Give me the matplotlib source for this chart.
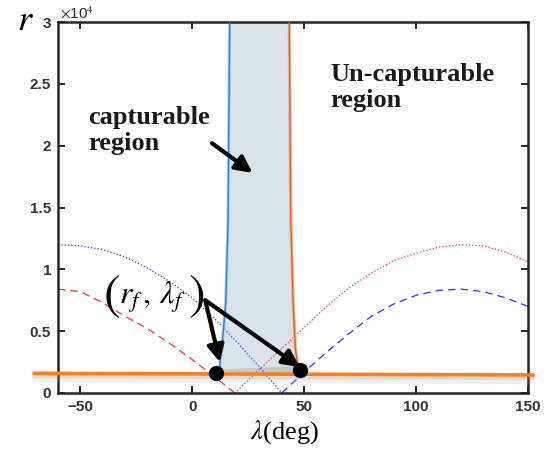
import numpy as np
import matplotlib
matplotlib.use("Agg")
import matplotlib.pyplot as plt

plt.rcParams['font.family'] = ['Liberation Sans', 'DejaVu Sans']
plt.rcParams['mathtext.fontset'] = 'stix'

# curves (r in units of 1e4, lambda in deg)
red_left_lam = [-60, -50, -40, -30, -20, -10, 0, 10, 19]
red_left_r = [0.84, 0.82, 0.73, 0.62, 0.52, 0.40, 0.27, 0.13, 0.0]
red_right_lam = [19, 30, 40, 50, 60, 70, 80, 90, 100, 110, 120, 130, 140, 150]
red_right_r = [0.0, 0.19, 0.36, 0.53, 0.70, 0.85, 0.97, 1.07, 1.13, 1.18, 1.2, 1.19, 1.14, 1.06]

blue_left_lam = [-60, -50, -40, -30, -20, -10, 0, 10, 20, 30, 40]
blue_left_r = [1.2, 1.19, 1.16, 1.10, 1.01, 0.90, 0.77, 0.60, 0.41, 0.21, 0.0]
blue_right_lam = [40, 50, 60, 70, 80, 90, 100, 110, 120, 130, 140, 150]
blue_right_r = [0.0, 0.17, 0.33, 0.48, 0.62, 0.72, 0.79, 0.83, 0.84, 0.82, 0.77, 0.70]

# boundaries of the capturable region
blue_bound_lam = [16.7, 16.0, 15.0, 13.3, 12.5, 12.3]
blue_bound_r = [3.0, 1.4, 0.75, 0.37, 0.27, 0.2]
orange_bound_lam = [43.3, 44.0, 45.0, 46.0, 46.7, 47.5]
orange_bound_r = [3.0, 1.4, 0.75, 0.37, 0.27, 0.2]

# final condition line and points
rf_lam = [-71.4, 153]
rf_r = [0.159, 0.146]
pts_lam = [10.7, 47.9]
pts_r = [0.165, 0.19]

fig = plt.figure(figsize=(5.5, 4.59), dpi=100)
ax = fig.add_axes([0.1055, 0.1438, 0.8545, 0.8082])

# shaded region
poly_lam = blue_bound_lam + [12.3, 47.5] + orange_bound_lam[::-1]
poly_r = blue_bound_r + [0.16, 0.16] + orange_bound_r[::-1]
ax.fill(poly_lam, poly_r, color='#d9e4ea', lw=0, zorder=1)
ax.fill([12.5, 48, 48, 12.5], [0.15, 0.15, 0.22, 0.19], color='#a8aaa8', alpha=0.45, lw=0, zorder=1)

ax.plot(red_left_lam, red_left_r, color='#ff3030', lw=0.9, dashes=(6, 4), zorder=2)
ax.plot(red_right_lam, red_right_r, color='#ff3030', lw=0.9, ls=':', zorder=2)
ax.plot(blue_left_lam, blue_left_r, color='#3030ff', lw=0.9, ls=':', zorder=2)
ax.plot(blue_right_lam, blue_right_r, color='#3030ff', lw=0.9, dashes=(6, 4), zorder=2)

ax.plot(blue_bound_lam, blue_bound_r, color='#b4d2ea', lw=2.5, zorder=2)
ax.plot(blue_bound_lam, blue_bound_r, color='#2f7fc0', lw=1.0, zorder=3)
ax.plot(orange_bound_lam, orange_bound_r, color='#f2bca0', lw=2.5, zorder=2)
ax.plot(orange_bound_lam, orange_bound_r, color='#e0602a', lw=1.0, zorder=3)

# shadow + orange line
ax.plot(rf_lam, [v - 0.035 for v in rf_r], color='#a0a0a0', lw=7, alpha=0.15,
        clip_on=False, solid_capstyle='butt', zorder=3)
ax.plot(rf_lam, [v - 0.025 for v in rf_r], color='#909090', lw=3, alpha=0.2,
        clip_on=False, solid_capstyle='butt', zorder=3)
ax.plot(rf_lam, rf_r, color='#ff7f0e', lw=2.6, clip_on=False,
        solid_capstyle='butt', zorder=4)

ax.plot(pts_lam, pts_r, 'o', color='black', ms=10, zorder=6, clip_on=False)

tail = (5.8, 0.75)
arrow = dict(arrowstyle='-|>,head_length=1.0,head_width=0.5',
             color='black', lw=3.0, shrinkA=0, shrinkB=0)
ax.annotate('', xy=(12.3, 0.25), xytext=tail, arrowprops=arrow, zorder=7)
ax.annotate('', xy=(48.0, 0.21), xytext=tail, arrowprops=arrow, zorder=7)
ax.annotate('', xy=(26.9, 1.78), xytext=(8.8, 2.02), arrowprops=arrow, zorder=7)

# (r_f, lambda_f) with tall parentheses
ax.text(-18.0, 0.77, r'$r_f\,,\,\lambda_f$', fontsize=23,
        ha='center', va='center', zorder=8)
ax.text(-36.0, 0.78, r'$($', fontsize=36, ha='center', va='center', zorder=8)
ax.text(1.5, 0.78, r'$)$', fontsize=36, ha='center', va='center', zorder=8)

ax.text(-46.4, 2.12, 'capturable\nregion', fontsize=19, fontweight='bold',
        family='Liberation Serif', color='#1a1a1a', ha='left', va='center',
        linespacing=1.15)
ax.text(61.6, 2.47, 'Un-capturable\nregion', fontsize=19, fontweight='bold',
        family='Liberation Serif', color='#1a1a1a', ha='left', va='center',
        linespacing=1.15)

ax.set_xlim(-60, 150)
ax.set_ylim(0, 3)
ax.set_xticks([-50, 0, 50, 100, 150])
ax.set_yticks([0, 0.5, 1, 1.5, 2, 2.5, 3])
ax.set_yticklabels(['0', '0.5', '1', '1.5', '2', '2.5', '3'])
ax.tick_params(direction='in', top=True, right=True, length=5, width=1.4,
               labelsize=11, labelcolor='#333333', color='#262626', pad=5)
for lab in ax.get_xticklabels() + ax.get_yticklabels():
    lab.set_fontweight('bold')
for s in ax.spines.values():
    s.set_linewidth(1.8)
    s.set_color('#262626')

fig.text(60 / 550, 1 - 13 / 459, r'$\times$10$^4$', fontsize=11, color='#262626',
         ha='left', va='center')
fig.text(25 / 550, 1 - 20 / 459, r'$r$', fontsize=26, ha='center', va='center')
fig.text(284 / 550, 1 - 432 / 459, r'$\lambda$(deg)', fontsize=19,
         family='Liberation Serif', ha='center', va='center')

fig.savefig('out.png', dpi=100)
